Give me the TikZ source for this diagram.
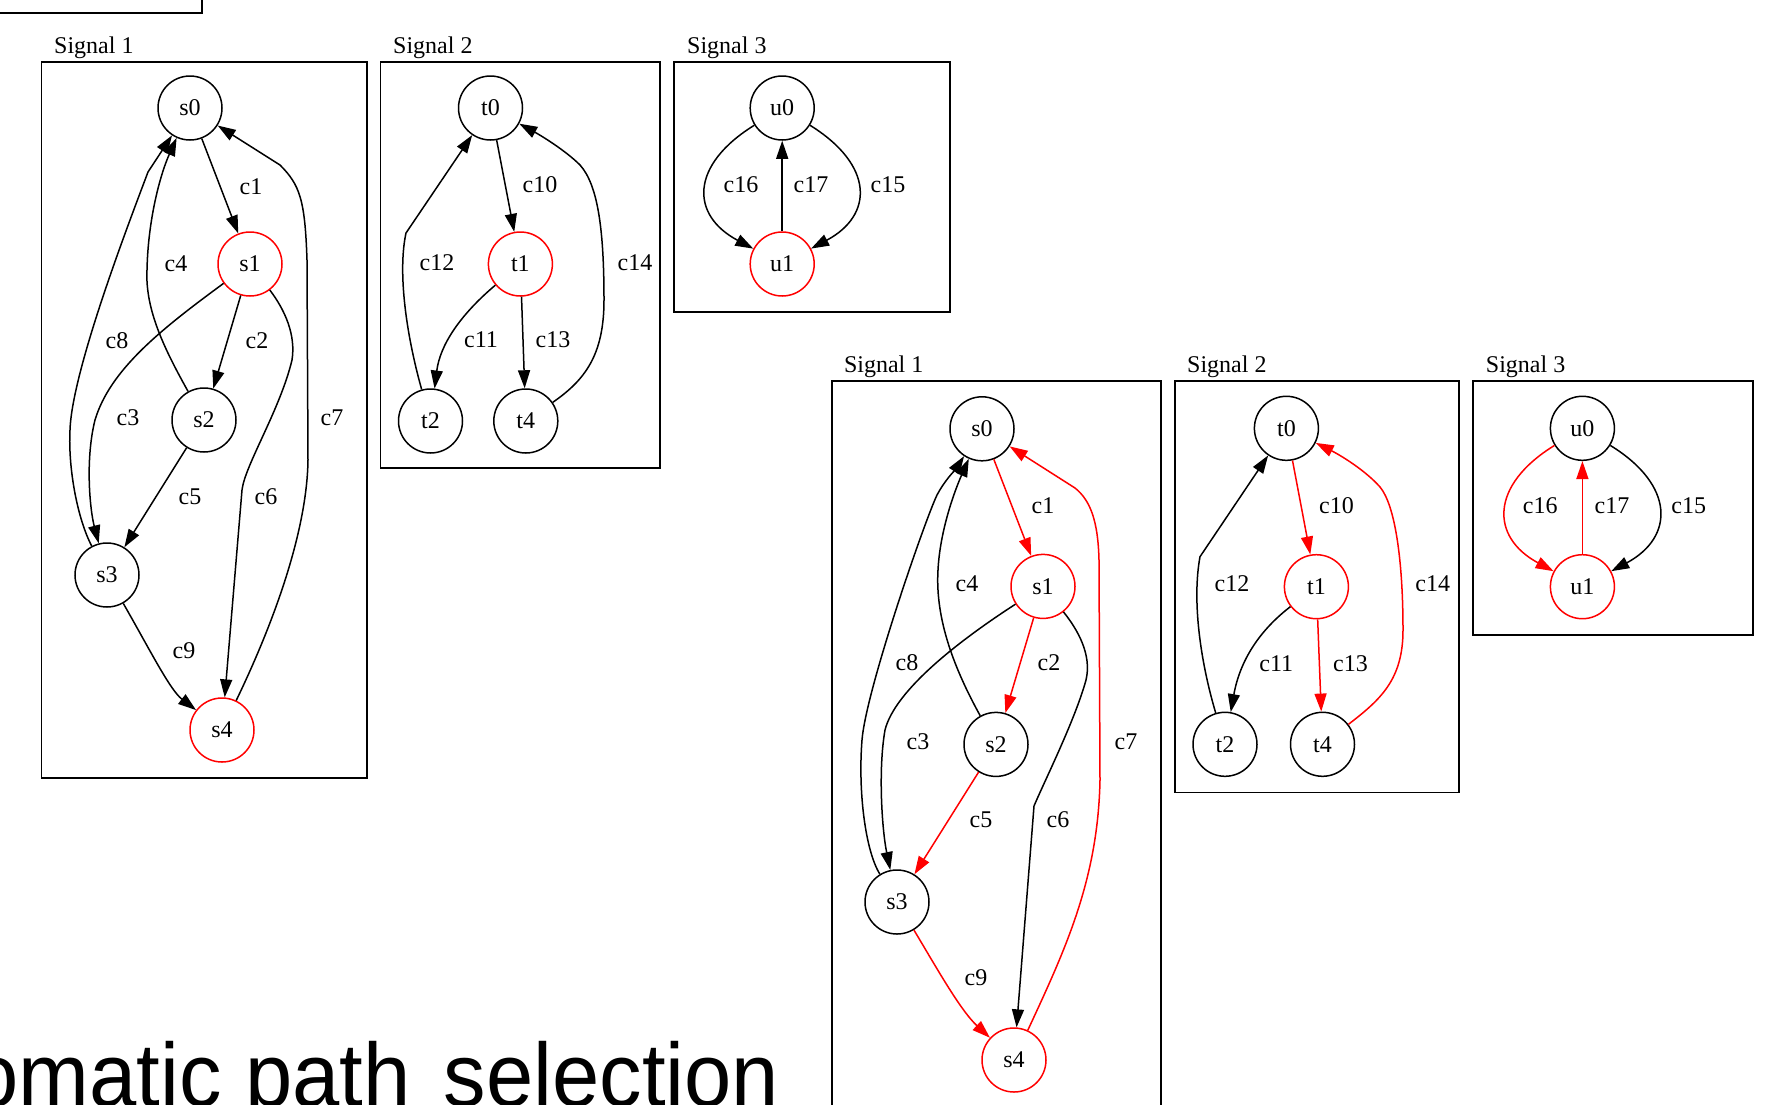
\documentclass[tikz,border=0pt]{standalone}
\usepackage{fontspec}
\setmainfont{Liberation Serif}
\newfontfamily\titlefont{Liberation Sans}
\usetikzlibrary{arrows.meta}
\begin{document}
\begin{tikzpicture}[x=1pt,y=-1pt,
  every node/.style={font=\fontsize{24}{28}\selectfont},
  nd/.style={circle,draw,line width=1.5pt,minimum size=64pt,inner sep=0pt},
  ndr/.style={nd,draw=red},
  lbl/.style={inner sep=0pt,anchor=center},
  sigcap/.style={inner sep=0pt,anchor=base west},
  frame/.style={draw,line width=1.5pt},
  conn/.style={line width=1.5pt,-{Triangle[length=18pt,width=12pt]}},
  connr/.style={conn,red}]
\useasboundingbox (0,0) rectangle (1789,1104);

% partial box at top left
\draw[frame] (-5,-5) rectangle (202,13);

% ---------- top: Signal 1 ----------
\draw[frame] (41.7,62) rectangle (367,778);
\node[sigcap] (capA1) at (54,53) {Signal 1};
\node[nd]  (as0) at (190,108) {s0};
\node[ndr] (as1) at (250,264) {s1};
\node[nd]  (as2) at (204,420) {s2};
\node[nd]  (as3) at (107,575) {s3};
\node[ndr] (as4) at (222,730) {s4};
\draw[conn] (as0) -- (as1);
\draw[conn] (as1) -- (as2);
\draw[conn] (as1) .. controls (160,330) and (110,370) .. (95,420) .. controls (85,460) and (90,510) .. (as3);
\draw[conn] (as2) .. controls (165,350) and (145,310) .. (147,270) .. controls (148,220) and (160,175) .. (as0);
\draw[conn] (as2) -- (as3);
\draw[conn] (as1) .. controls (285,310) and (296,335) .. (292,360) .. controls (280,410) and (245,465) .. (242,490) -- (as4);
\draw[conn] (as4) .. controls (275,620) and (307,530) .. (308,460) -- (307,260) .. controls (305,200) and (300,185) .. (280,165) -- (as0);
\draw[conn] (as3) .. controls (78,520) and (68,470) .. (70,430) .. controls (72,370) and (130,220) .. (148,172) -- (as0);
\draw[conn] (as3) .. controls (150,650) and (170,690) .. (as4);
\node[lbl] (la1) at (251,187) {c1};
\node[lbl] (la4) at (176,264) {c4};
\node[lbl] (la8) at (117,340.5) {c8};
\node[lbl] (la2) at (257,340.5) {c2};
\node[lbl] (la3) at (128,418) {c3};
\node[lbl] (la7) at (332,418) {c7};
\node[lbl] (la5) at (190,496.6) {c5};
\node[lbl] (la6) at (266,496.6) {c6};
\node[lbl] (la9) at (184,651) {c9};

% ---------- top: Signal 2 ----------
\draw[frame] (380.7,62) rectangle (660,468);
\node[sigcap] (capA2) at (393,53) {Signal 2};
\node[nd]  (at0) at (490.5,108) {t0};
\node[ndr] (at1) at (520.4,264) {t1};
\node[nd]  (at2) at (430.5,421) {t2};
\node[nd]  (at4) at (525.8,421) {t4};
\draw[conn] (at0) -- (at1);
\draw[conn] (at1) .. controls (460,315) and (440,345) .. (at2);
\draw[conn] (at2) .. controls (405,330) and (398,270) .. (406,233) -- (at0);
\draw[conn] (at1) -- (at4);
\draw[conn] (at4) .. controls (585,380) and (604,355) .. (604,300) .. controls (604,230) and (598,185) .. (580,165) .. controls (565,150) and (540,135) .. (at0);
\node[lbl] (la10) at (540,185) {c10};
\node[lbl] (la12) at (437,263) {c12};
\node[lbl] (la14) at (635,263) {c14};
\node[lbl] (la11) at (481,340) {c11};
\node[lbl] (la13) at (553,340) {c13};

% ---------- top: Signal 3 ----------
\draw[frame] (674,62) rectangle (949.8,312);
\node[sigcap] (capA3) at (687,53) {Signal 3};
\node[nd]  (au0) at (782.2,108) {u0};
\node[ndr] (au1) at (782.2,264) {u1};
\draw[conn] (au0) .. controls (690,165) and (690,215) .. (au1);
\draw[conn] (au0) .. controls (874,165) and (874,215) .. (au1);
\draw[conn] (au1) -- (au0);
\node[lbl] (la16) at (741,185) {c16};
\node[lbl] (la17) at (811,185) {c17};
\node[lbl] (la15) at (888,185) {c15};

% ---------- bottom: Signal 1 ----------
\draw[frame] (832,1115) -- (832,381) -- (1161,381) -- (1161,1115);
\node[sigcap] (capB1) at (843.8,372) {Signal 1};
\node[nd]  (bs0) at (982,428.8) {s0};
\node[ndr] (bs1) at (1043,586.4) {s1};
\node[nd]  (bs2) at (996,744.4) {s2};
\node[nd]  (bs3) at (897,902) {s3};
\node[ndr] (bs4) at (1014,1060) {s4};
\draw[connr] (bs0) -- (bs1);
\draw[connr] (bs1) -- (bs2);
\draw[connr] (bs2) -- (bs3);
\draw[connr] (bs3) .. controls (935,965) and (960,1010) .. (bs4);
\draw[conn] (bs1) .. controls (960,640) and (895,690) .. (885,730) .. controls (878,770) and (882,830) .. (bs3);
\draw[conn] (bs2) .. controls (955,670) and (935,620) .. (938,570) .. controls (940,530) and (955,490) .. (bs0);
\draw[conn] (bs3) .. controls (865,850) and (858,790) .. (862,740) .. controls (866,690) and (925,520) .. (937,495) .. controls (945,480) and (955,470) .. (bs0);
\draw[conn] (bs1) .. controls (1078,630) and (1092,655) .. (1086,680) .. controls (1075,720) and (1045,780) .. (1034,806) -- (bs4);
\draw[connr] (bs4) .. controls (1065,950) and (1098,880) .. (1100,780) -- (1099,560) .. controls (1098,520) and (1090,500) .. (1075,488) -- (bs0);
\node[lbl] (lb1) at (1043,506) {c1};
\node[lbl] (lb4) at (967,584) {c4};
\node[lbl] (lb8) at (907,663) {c8};
\node[lbl] (lb2) at (1049,663) {c2};
\node[lbl] (lb3) at (918,742) {c3};
\node[lbl] (lb7) at (1126,742) {c7};
\node[lbl] (lb5) at (981,820) {c5};
\node[lbl] (lb6) at (1058,820) {c6};
\node[lbl] (lb9) at (976,978) {c9};

% ---------- bottom: Signal 2 ----------
\draw[frame] (1175,381) rectangle (1459,792.7);
\node[sigcap] (capB2) at (1187,372) {Signal 2};
\node[nd]  (bt0) at (1286.4,428.3) {t0};
\node[ndr] (bt1) at (1316.4,586.7) {t1};
\node[nd]  (bt2) at (1225,744.3) {t2};
\node[nd]  (bt4) at (1322.5,744.3) {t4};
\draw[connr] (bt0) -- (bt1);
\draw[conn] (bt1) .. controls (1260,630) and (1240,660) .. (bt2);
\draw[conn] (bt2) .. controls (1200,660) and (1192,600) .. (1200,556.7) -- (bt0);
\draw[connr] (bt1) -- (bt4);
\draw[connr] (bt4) .. controls (1380,700) and (1403,680) .. (1403,630) .. controls (1403,560) and (1395,505) .. (1380,487) .. controls (1365,470) and (1340,455) .. (bt0);
\node[lbl] (lb10) at (1336.5,506) {c10};
\node[lbl] (lb12) at (1232,584) {c12};
\node[lbl] (lb14) at (1432.8,584) {c14};
\node[lbl] (lb11) at (1276.3,663.3) {c11};
\node[lbl] (lb13) at (1350.5,663.3) {c13};

% ---------- bottom: Signal 3 ----------
\draw[frame] (1472.9,381) rectangle (1752.9,635);
\node[sigcap] (capB3) at (1485.7,372) {Signal 3};
\node[nd]  (bu0) at (1582.4,428.3) {u0};
\node[ndr] (bu1) at (1582.4,586.7) {u1};
\draw[connr] (bu0) .. controls (1490,485) and (1490,537) .. (bu1);
\draw[conn] (bu0) .. controls (1674.8,485) and (1674.8,537) .. (bu1);
\draw[connr] (bu1) -- (bu0);
\node[lbl] (lb16) at (1540.3,506) {c16};
\node[lbl] (lb17) at (1612,506) {c17};
\node[lbl] (lb15) at (1688.7,506) {c15};

% ---------- title (cut off at left, as in the reference) ----------
\node[anchor=base east, inner sep=0pt, xscale=0.944, font=\titlefont\fontsize{90}{100}\selectfont] (title) at (779.5,1106) {omatic path \hspace{10pt}selection};
\end{tikzpicture}
\end{document}
